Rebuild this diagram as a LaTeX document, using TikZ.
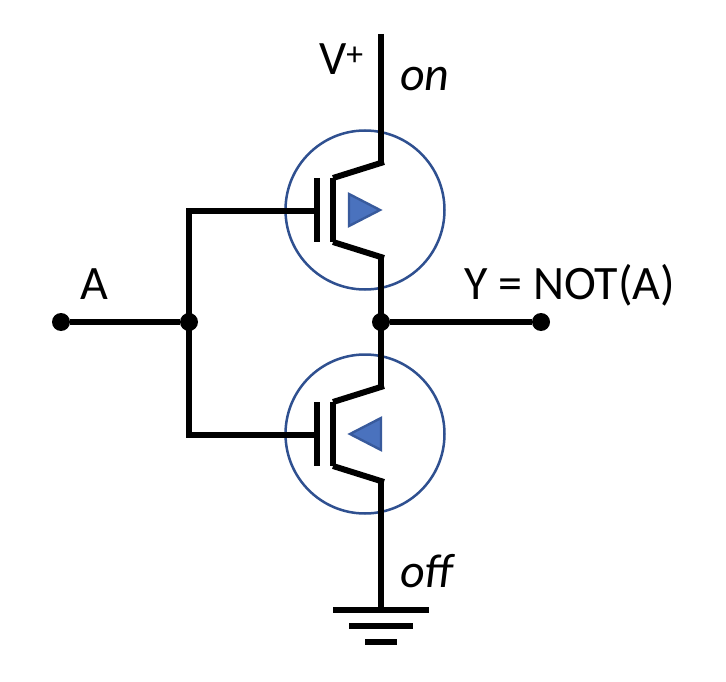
\documentclass[tikz,border=0pt]{standalone}
\usepackage{fontspec}
\setmainfont{Carlito}
\definecolor{ringblue}{HTML}{2F5090}
\definecolor{fillblue}{HTML}{4A72BE}
\definecolor{edgeblue}{HTML}{385A9C}
\tikzset{
  wire/.style={line width=6pt,black,line cap=butt},
  joint/.style={circle,fill=black,inner sep=0pt,minimum size=18pt},
  fetring/.style={circle,draw=ringblue,line width=2.5pt,inner sep=0pt,minimum size=159pt},
  fetarrow/.style={draw=edgeblue,fill=fillblue,line width=2.4pt,line join=miter},
  lbl/.style={inner sep=0pt,font=\fontsize{48}{52}\selectfont,text=black},
  ital/.style={lbl,font=\fontsize{48}{52}\selectfont\itshape}
}
\begin{document}
\begin{tikzpicture}[x=1pt,y=-1pt]
\useasboundingbox (0,0) rectangle (726,682);
\fill[white] (0,0) rectangle (726,682);
% rings
\node[fetring] (ringP) at (365,210) {};
\node[fetring] (ringN) at (365,434) {};
% named points
\node[joint] (inA) at (61,322) {};
\node[joint] (jA) at (189,322) {};
\node[joint] (jY) at (381,322) {};
\node[joint] (outY) at (541,322) {};
\coordinate (vdd) at (381,34);
\coordinate (dP) at (381,162);
\coordinate (sP) at (381,258);
\coordinate (dN) at (381,386);
\coordinate (sN) at (381,482);
\coordinate (gnd) at (381,610);
\coordinate (gP) at (189,210.5);
\coordinate (gN) at (189,434.5);
% wires
\draw[wire] (inA) -- (jA);
\draw[wire] (jY) -- (outY);
\draw[wire,line join=miter] (317,210.5) -- (gP) -- (gN) -- (317,434.5);
\draw[wire] (vdd) -- (dP);
\draw[wire] (sP) -- (dN);
\draw[wire] (sN) -- (gnd);
% upper transistor
\draw[wire] (dP) ++(3,0) -- (333,178);
\draw[wire] (sP) ++(3,0) -- (333,242);
\draw[wire] (317,178) -- (317,242);
\draw[wire] (333,178) -- (333,242);
\draw[fetarrow] (349,194) -- (380,210) -- (349,226) -- cycle;
% lower transistor
\draw[wire] (dN) ++(3,0) -- (333,402);
\draw[wire] (sN) ++(3,0) -- (333,466);
\draw[wire] (317,402) -- (317,466);
\draw[wire] (333,402) -- (333,466);
\draw[fetarrow] (381,418) -- (350,434) -- (381,450) -- cycle;
% ground
\draw[wire] (333,610) -- (429,610);
\draw[wire] (349,626) -- (413,626);
\draw[wire] (365,642) -- (397,642);
% labels
\node[lbl,anchor=base west] (tV) at (319,75) {V\textsuperscript{+}};
\node[ital,anchor=base west] (tOn) at (400,91) {on};
\node[ital,anchor=base west] (tOff) at (400,587) {of{}f};
\node[lbl,anchor=base west] (tA) at (80,299) {A};
\node[lbl,anchor=base west] (tY) at (464,299) {Y = NOT(A)};
\end{tikzpicture}
\end{document}
